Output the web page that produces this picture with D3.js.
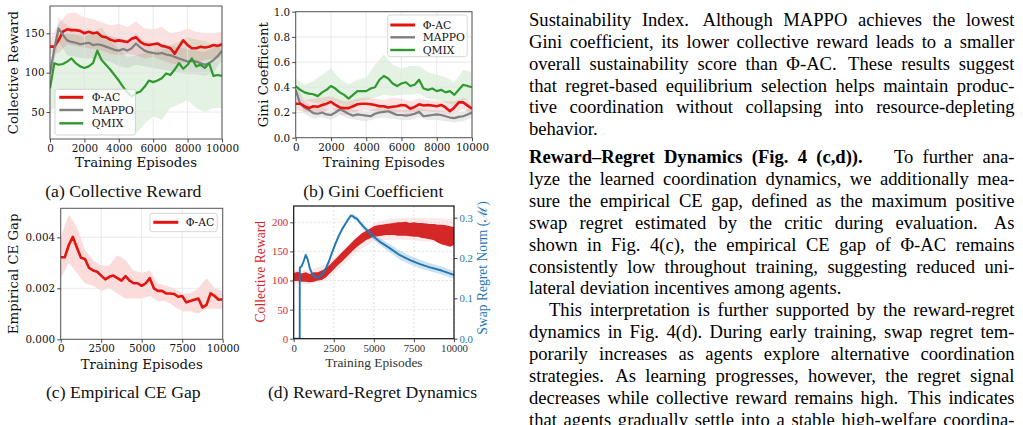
<!DOCTYPE html>
<html><head><meta charset="utf-8">
<script src="https://cdn.jsdelivr.net/npm/d3@7"></script>
<style>
html,body{margin:0;padding:0;background:#fff;}
body{width:1023px;height:425px;overflow:hidden;position:relative;}
svg{position:absolute;left:0;top:0;}
.ln{position:absolute;font-family:"Liberation Serif","Times New Roman",serif;font-size:18.6px;line-height:22px;color:#000;white-space:nowrap;}
.sp{display:inline-block;}
</style></head><body>
<script>
// ---------------- DATA ----------------
const epFine = [0,250,500,750,1000,1250,1500,1750,2000,2250,2500,2750,3000,3250,3500,3750,4000,4250,4500,4750,5000,5250,5500,5750,6000,6250,6500,6750,7000,7250,7500,7750,8000,8250,8500,8750,9000,9250,9500,9750,10000];
const epCoarse = [0,500,1000,1500,2000,2500,3000,3500,4000,4500,5000,5500,6000,6500,7000,7500,8000,8500,9000,9500,10000];
const epDecade = [0,1000,2000,3000,4000,5000,6000,7000,8000,9000,10000];
const seriesNames = ["Φ-AC","MAPPO","QMIX"];

// (a) Collective Reward
const rewardPhiAC = [133,133,141,152,155,154,154,153,150,152,150,151,146,145,142,140,141,140,139,143,145,139,136,135,136,137,134,133,131,124,133,141,135,131,131,133,132,133,135,134,136];
const rewardMAPPO = [99,130,156,148,141,139,138,136,137,138,135,136,135,133,131,129,128,130,128,131,137,132,128,126,125,124,125,123,122,120,118,116,114,115,114,112,110,112,116,121,128];
const rewardQMIX = [80,112,110,111,114,118,112,108,106,108,112,128,116,110,104,97,90,82,75,70,74,76,82,90,88,90,93,99,97,104,112,105,110,118,108,110,106,112,96,97,96];
const rewardPhiACHi = [142,162,175,176,170,168,164,160,162,158,165,156,155,158,150,152,156,152,150,150,152];
const rewardPhiACLo = [124,125,136,134,132,130,128,124,122,124,122,118,120,116,112,110,116,112,116,118,120];
const rewardMAPPOHi = [108,170,160,155,152,150,150,147,144,140,150,140,138,136,134,132,130,128,126,132,140];
const rewardMAPPOLo = [90,140,122,120,118,118,116,114,108,106,110,108,106,104,102,100,98,98,96,100,116];
const rewardQMIXHi = [110,150,150,148,145,150,158,140,130,120,122,125,128,128,135,140,145,142,140,135,135];
const rewardQMIXLo = [50,60,70,65,62,70,80,60,40,25,22,35,45,40,55,60,65,55,50,55,55];
const rewardYTicks = [50,100,150];

// (b) Gini Coefficient
const giniPhiAC = [0.27,0.27,0.25,0.235,0.25,0.245,0.26,0.27,0.285,0.26,0.24,0.235,0.235,0.25,0.265,0.27,0.27,0.265,0.26,0.25,0.25,0.24,0.245,0.25,0.26,0.255,0.23,0.245,0.265,0.255,0.26,0.255,0.25,0.26,0.24,0.21,0.24,0.28,0.28,0.255,0.23];
const giniMAPPO = [0.38,0.27,0.24,0.22,0.195,0.19,0.20,0.185,0.18,0.20,0.225,0.21,0.19,0.175,0.185,0.18,0.175,0.17,0.19,0.20,0.205,0.21,0.195,0.18,0.18,0.175,0.18,0.19,0.205,0.17,0.175,0.18,0.185,0.18,0.17,0.16,0.155,0.165,0.17,0.185,0.20];
const giniQMIX = [0.41,0.38,0.36,0.35,0.345,0.33,0.36,0.38,0.41,0.39,0.36,0.34,0.31,0.34,0.37,0.37,0.37,0.39,0.40,0.46,0.49,0.47,0.43,0.41,0.43,0.44,0.41,0.42,0.46,0.39,0.38,0.39,0.37,0.38,0.36,0.37,0.34,0.38,0.42,0.41,0.40];
const giniPhiACHi = [0.32,0.30,0.31,0.32,0.33,0.30,0.29,0.31,0.32,0.31,0.30,0.32,0.31,0.29,0.31,0.30,0.29,0.29,0.29,0.32,0.29];
const giniPhiACLo = [0.22,0.20,0.19,0.20,0.23,0.19,0.18,0.21,0.22,0.21,0.20,0.19,0.20,0.18,0.21,0.21,0.20,0.19,0.19,0.23,0.18];
const giniMAPPOHi = [0.42,0.29,0.24,0.24,0.22,0.26,0.23,0.22,0.21,0.23,0.25,0.23,0.22,0.22,0.24,0.22,0.22,0.21,0.19,0.21,0.24];
const giniMAPPOLo = [0.34,0.19,0.15,0.16,0.14,0.18,0.15,0.14,0.13,0.15,0.16,0.15,0.14,0.14,0.16,0.14,0.14,0.13,0.12,0.13,0.16];
const giniQMIXHi = [0.47,0.42,0.45,0.50,0.55,0.47,0.42,0.46,0.48,0.58,0.66,0.58,0.55,0.57,0.57,0.52,0.50,0.48,0.44,0.54,0.52];
const giniQMIXLo = [0.33,0.30,0.28,0.27,0.30,0.27,0.24,0.29,0.30,0.32,0.34,0.33,0.34,0.34,0.35,0.31,0.30,0.28,0.26,0.30,0.30];
const giniYTicks = [0,0.2,0.4,0.6,0.8,1.0];

// (c) Empirical CE Gap
const ceGap = [0.00322,0.00322,0.0037,0.00402,0.0036,0.0032,0.00315,0.0028,0.0027,0.00265,0.0025,0.00235,0.00245,0.0025,0.0024,0.0023,0.00248,0.0023,0.0022,0.0022,0.0021,0.0022,0.0024,0.0020,0.0019,0.0019,0.0018,0.0018,0.00178,0.00167,0.0017,0.00145,0.0015,0.00155,0.0016,0.00125,0.00135,0.0018,0.0017,0.00155,0.00157];
const ceGapHi = [0.0040,0.0049,0.0044,0.0035,0.0031,0.0029,0.0029,0.0033,0.0031,0.0027,0.0026,0.0027,0.0022,0.0021,0.0020,0.0018,0.0018,0.0020,0.0024,0.0020,0.0019];
const ceGapLo = [0.0024,0.0030,0.0026,0.0022,0.0021,0.0019,0.0020,0.0018,0.0016,0.0016,0.0016,0.0017,0.0015,0.0015,0.0013,0.0011,0.0011,0.0010,0.0012,0.0012,0.0012];
const ceYTicks = [0,0.002,0.004];
const quarterTicks = [0,2500,5000,7500,10000];

// (d) Reward-Regret Dynamics
const dynRewardHi = [113,115,112,114,111,114,114,117,121,127,134,141,148,155,162,169,175,181,185,189,193,195,196,197,198,199,200,200,201,199,200,199,199,198,197,197,196,196,195,193,192];
const dynRewardLo = [99,99,98,98,97,98,100,101,105,112,119,126,132,139,146,153,159,164,169,172,175,176,177,178,178,178,177,177,177,176,175,175,173,172,171,169,165,162,160,158,161];
const dynRewardBandHi = [118,118,128,150,176,198,206,208,208,207,205];
const dynRewardBandLo = [94,94,100,124,150,168,170,170,168,166,158];
const regretEp = [0,375,380,500,620,750,880,1000,1200,1420,1600,1750,2000,2200,2370,2600,2790,3000,3200,3400,3560,3680,3800,3950,4150,4350,4600,4870,5390,6010,6630,7260,7880,8500,9230,10000];
const regretVal = [0,0,0.176,0.180,0.192,0.2075,0.196,0.175,0.157,0.152,0.154,0.158,0.174,0.192,0.211,0.235,0.253,0.270,0.283,0.296,0.305,0.304,0.300,0.297,0.287,0.278,0.268,0.257,0.240,0.224,0.207,0.195,0.185,0.177,0.169,0.158];
const regretStd = [0,0,0.003,0.003,0.004,0.004,0.004,0.004,0.004,0.004,0.004,0.004,0.004,0.005,0.005,0.005,0.005,0.005,0.005,0.005,0.005,0.005,0.006,0.006,0.006,0.007,0.007,0.008,0.009,0.010,0.011,0.011,0.011,0.010,0.010,0.009];
const dynLeftTicks = [0,50,100,150,200];
const dynRightTicks = [0,0.1,0.2,0.3];
const tenKTicks = [0,2000,4000,6000,8000,10000];

const captions = ["(a) Collective Reward","(b) Gini Coefficient","(c) Empirical CE Gap","(d) Reward-Regret Dynamics"];

const SP = w => `<span class='sp' style='width:${w}px'></span>`;
const bodyLines = [
 "Sustainability Index." + SP(4) + " Although MAPPO achieves the lowest",
 "Gini coefficient, its lower collective reward leads to a smaller",
 "overall sustainability score than Φ-AC." + SP(3) + " These results suggest",
 "that regret-based equilibrium selection helps maintain produc-",
 "tive coordination without collapsing into resource-depleting",
 "behavior.",
 "<b>Reward–Regret Dynamics (Fig. 4 (c,d)).</b> " + SP(13) + " To further ana-",
 "lyze the learned coordination dynamics, we additionally mea-",
 "sure the empirical CE gap, defined as the maximum positive",
 "swap regret estimated by the critic during evaluation." + SP(5) + " As",
 "shown in Fig. 4(c), the empirical CE gap of Φ-AC remains",
 "consistently low throughout training, suggesting reduced uni-",
 "lateral deviation incentives among agents.",
 "This interpretation is further supported by the reward-regret",
 "dynamics in Fig. 4(d). During early training, swap regret tem-",
 "porarily increases as agents explore alternative coordination",
 "strategies." + SP(3) + " As learning progresses, however, the regret signal",
 "decreases while collective reward remains high." + SP(3) + " This indicates",
 "that agents gradually settle into a stable high-welfare coordina-"
];
const lineBaselines = [26.7,48.4,70.1,91.8,113.5,135.2,163.3,185.2,207.1,229,250.9,272.8,294.7,316.6,338.5,360.4,382.3,404.2,426.1];
const lineClass = ["","","","","","last","","","","","","","last","ind","","","","",""];

// ---------------- DRAW ----------------
const RED = "#e3140f", GRAY = "#7f7f7f", GREEN = "#2e9a2e";
const MPL = "DejaVu Serif", TIMES = "Liberation Serif";
const TICK_FS = 10.4, LABEL_FS = 13.3, LEG_FS = 10.8;
const svg = d3.select("body").append("svg").attr("width",1023).attr("height",425);
const defs = svg.append("defs");

function frame(id, L, R, T, B, yDom) {
  const x = d3.scaleLinear().domain([0,10000]).range([L,R]);
  const y = d3.scaleLinear().domain(yDom).range([B,T]);
  defs.append("clipPath").attr("id","c"+id).append("rect").attr("x",L).attr("y",T).attr("width",R-L).attr("height",B-T);
  const g = svg.append("g");
  const under = g.append("g").attr("clip-path",`url(#c${id})`);
  const gridG = g.append("g");
  const plot = g.append("g").attr("clip-path",`url(#c${id})`);
  return {x,y,g,under,gridG,plot,L,R,T,B};
}
function band(p, layer, xs, lo, hi, fill, yScale) {
  const ys = yScale || p.y;
  const area = d3.area().x((d,i)=>p.x(xs[i])).y0((d,i)=>ys(lo[i])).y1((d,i)=>ys(hi[i]));
  layer.append("path").datum(xs).attr("d",area).attr("fill",fill);
}
function line(p, xs, vals, color, w, yScale) {
  const ys = yScale || p.y;
  const ln = d3.line().x((d,i)=>p.x(xs[i])).y(d=>ys(d));
  p.plot.append("path").datum(vals).attr("d",ln).attr("fill","none").attr("stroke",color).attr("stroke-width",w).attr("stroke-linejoin","round");
}
function grid(p, xt, yt, color, dash, yScale) {
  const ys = yScale || p.y;
  p.gridG.selectAll(null).data(xt).enter().append("line")
    .attr("x1",d=>p.x(d)).attr("x2",d=>p.x(d)).attr("y1",p.T).attr("y2",p.B)
    .attr("stroke",color).attr("stroke-width",0.8).attr("stroke-dasharray",dash);
  p.gridG.selectAll(null).data(yt).enter().append("line")
    .attr("y1",d=>ys(d)).attr("y2",d=>ys(d)).attr("x1",p.L).attr("x2",p.R)
    .attr("stroke",color).attr("stroke-width",0.8).attr("stroke-dasharray",dash);
}
function styleAxis(sel, font, fs, fill, tickColor) {
  sel.select(".domain").remove();
  sel.selectAll(".tick line").attr("stroke",tickColor).attr("stroke-width",0.9);
  sel.attr("font-family",font).attr("font-size",fs);
  sel.selectAll(".tick text").attr("fill",fill);
}
function xAxis(p, ticks, font, fs, fill) {
  const s = p.g.append("g").attr("transform",`translate(0,${p.B})`)
    .call(d3.axisBottom(p.x).tickValues(ticks).tickSize(3.5).tickPadding(2).tickFormat(d3.format("d")));
  styleAxis(s, font, fs, fill, "#333");
}
function yAxis(p, ticks, fmt, font, fs, fill) {
  const s = p.g.append("g").attr("transform",`translate(${p.L},0)`)
    .call(d3.axisLeft(p.y).tickValues(ticks).tickSize(3.5).tickPadding(2).tickFormat(d3.format(fmt)));
  styleAxis(s, font, fs, fill, "#333");
}
function border(p, color, w) {
  p.g.append("rect").attr("x",p.L).attr("y",p.T).attr("width",p.R-p.L).attr("height",p.B-p.T)
    .attr("fill","none").attr("stroke",color).attr("stroke-width",w);
}
function text(str, x, y, font, fs, opts={}) {
  const t = svg.append("text").attr("x",x).attr("y",y).attr("font-family",font).attr("font-size",fs)
    .attr("text-anchor",opts.anchor||"middle").attr("fill",opts.fill||"#111").text(str);
  if (opts.rotate) t.attr("transform",`rotate(-90,${x},${y})`);
  return t;
}
function legend(x0, y0, w, h, rows, lineX0, lineX1, textX, colors, widths, names) {
  const g = svg.append("g");
  g.append("rect").attr("x",x0).attr("y",y0).attr("width",w).attr("height",h).attr("rx",2.5)
    .attr("fill","white").attr("fill-opacity",0.8).attr("stroke","#cccccc").attr("stroke-width",0.8);
  rows.forEach((ry,i)=>{
    g.append("line").attr("x1",lineX0).attr("x2",lineX1).attr("y1",ry).attr("y2",ry)
      .attr("stroke",colors[i]).attr("stroke-width",widths[i]);
    g.append("text").attr("x",textX).attr("y",ry).attr("dy","0.36em").attr("font-family",MPL)
      .attr("font-size",LEG_FS).attr("fill","#111").text(names[i]);
  });
}

// ---- (a)
{
  const p = frame("a", 50, 222, 6, 139, [15.8,184.6]);
  band(p, p.under, epCoarse, rewardQMIXLo, rewardQMIXHi, "rgba(46,154,46,0.13)");
  band(p, p.under, epCoarse, rewardMAPPOLo, rewardMAPPOHi, "rgba(127,127,127,0.16)");
  band(p, p.under, epCoarse, rewardPhiACLo, rewardPhiACHi, "rgba(227,20,15,0.13)");
  grid(p, tenKTicks, rewardYTicks, "#e4e4e4", null);
  line(p, epFine, rewardPhiAC, RED, 2.6);
  line(p, epFine, rewardMAPPO, GRAY, 2.2);
  line(p, epFine, rewardQMIX, GREEN, 2.2);
  border(p, "#555", 1);
  xAxis(p, tenKTicks, MPL, TICK_FS, "#111");
  yAxis(p, rewardYTicks, "d", MPL, TICK_FS, "#111");
  text("Training Episodes", 136, 167, MPL, LABEL_FS);
  text("Collective Reward", 17.6, 72.5, MPL, LABEL_FS, {rotate:true});
  legend(55, 89.3, 80.5, 45.7, [97.3,110,123.3], 59.3, 83.3, 91.7, [RED,GRAY,GREEN], [3,2.4,2.4], seriesNames);
}
// ---- (b)
{
  const p = frame("b", 295.7, 472, 11.7, 137.7, [0,1]);
  band(p, p.under, epCoarse, giniQMIXLo, giniQMIXHi, "rgba(46,154,46,0.13)");
  band(p, p.under, epCoarse, giniMAPPOLo, giniMAPPOHi, "rgba(127,127,127,0.16)");
  band(p, p.under, epCoarse, giniPhiACLo, giniPhiACHi, "rgba(227,20,15,0.13)");
  grid(p, tenKTicks, giniYTicks, "#e4e4e4", null);
  line(p, epFine, giniMAPPO, GRAY, 2.2);
  line(p, epFine, giniPhiAC, RED, 2.6);
  line(p, epFine, giniQMIX, GREEN, 2.2);
  border(p, "#555", 1);
  xAxis(p, tenKTicks, MPL, TICK_FS, "#111");
  yAxis(p, giniYTicks, ".1f", MPL, TICK_FS, "#111");
  text("Training Episodes", 383.8, 167, MPL, LABEL_FS);
  text("Gini Coefficient", 268, 74.7, MPL, LABEL_FS, {rotate:true});
  legend(387.7, 15, 79.5, 41.7, [25,37.3,50], 390.3, 415, 422.7, [RED,GRAY,GREEN], [3,2.4,2.4], seriesNames);
}
// ---- (c)
{
  const p = frame("c", 60.7, 222.7, 208.3, 339.3, [0,0.00514]);
  band(p, p.under, epCoarse, ceGapLo, ceGapHi, "rgba(227,20,15,0.15)");
  grid(p, quarterTicks, ceYTicks, "#e4e4e4", null);
  line(p, epFine, ceGap, RED, 2.6);
  border(p, "#555", 1);
  xAxis(p, quarterTicks, MPL, TICK_FS, "#111");
  yAxis(p, ceYTicks, ".3f", MPL, TICK_FS, "#111");
  text("Training Episodes", 141.7, 368.5, MPL, LABEL_FS);
  text("Empirical CE Gap", 17.6, 273.8, MPL, LABEL_FS, {rotate:true});
  legend(150, 213.3, 67.3, 18.4, [222.3], 153.3, 178.3, 185.7, [RED], [3], seriesNames);
}
// ---- (d)
{
  const p = frame("d", 293.7, 454, 206, 338.7, [0,228]);
  const yR = d3.scaleLinear().domain([0,0.329]).range([338.7,206]);
  band(p, p.under, epDecade, dynRewardBandLo, dynRewardBandHi, "rgba(214,39,40,0.10)");
  grid(p, quarterTicks, dynLeftTicks, "#d8d8d8", "2,2");
  band(p, p.plot, epFine, dynRewardLo, dynRewardHi, "#d62728");
  const hiR = regretVal.map((v,i)=>v+regretStd[i]), loR = regretVal.map((v,i)=>v-regretStd[i]);
  band(p, p.plot, regretEp, loR, hiR, "rgba(31,119,180,0.22)", yR);
  line(p, regretEp, regretVal, "#1f77b4", 1.9, yR);
  border(p, "#111", 1.2);
  xAxis(p, quarterTicks, TIMES, 10.8, "#333");
  yAxis(p, dynLeftTicks, "d", TIMES, 10.8, "#d62728");
  const r = p.g.append("g").attr("transform",`translate(${p.R},0)`)
    .call(d3.axisRight(yR).tickValues(dynRightTicks).tickSize(3.5).tickPadding(2).tickFormat(d3.format(".1f")));
  styleAxis(r, TIMES, 10.8, "#1f77b4", "#333");
  text("Training Episodes", 373.9, 367, TIMES, 13.4, {fill:"#333"});
  text("Collective Reward", 265.5, 271.7, TIMES, 13.6, {rotate:true, fill:"#d62728"});
  text("Swap Regret Norm (ℳ)", 486.5, 268, TIMES, 13.6, {rotate:true, fill:"#1f77b4"});
}
// captions
text(captions[0], 123.3, 197.3, TIMES, 17.7);
text(captions[1], 373.3, 197.3, TIMES, 17.7);
text(captions[2], 123.3, 397.7, TIMES, 17.7);
text(captions[3], 372.5, 398, TIMES, 17.7);

// body text column, justified line by line
const COL_LEFT = 529, COL_W = 485.5, INDENT = 20, BASE_OFF = 17.28;
d3.select("body").selectAll("div.ln").data(bodyLines).enter().append("div")
  .attr("class","ln")
  .style("left",(d,i)=>(COL_LEFT + (lineClass[i]==="ind"?INDENT:0))+"px")
  .style("top",(d,i)=>(lineBaselines[i]-BASE_OFF)+"px")
  .html(d=>`<span>${d}</span>`);
document.querySelectorAll(".ln").forEach((el,i)=>{
  if (lineClass[i]==="last") return;
  const span = el.firstChild;
  const w = span.getBoundingClientRect().width;
  const n = (span.textContent.match(/ /g)||[]).length;
  const target = COL_W - (lineClass[i]==="ind"?INDENT:0);
  if (n>0) el.style.wordSpacing = ((target - w)/n)+"px";
});
</script>
</body></html>
